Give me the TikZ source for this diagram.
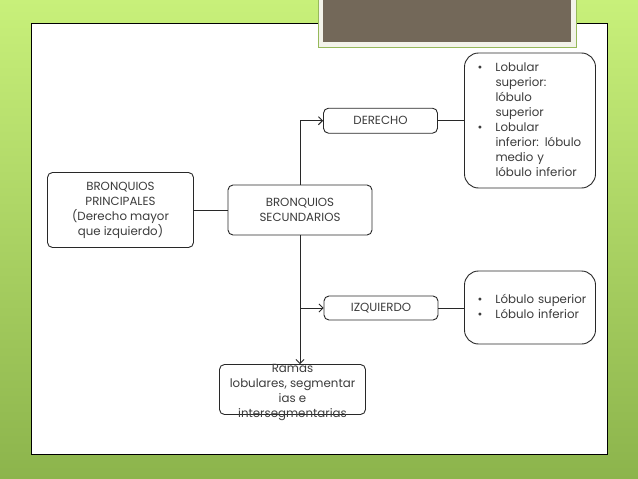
\documentclass[tikz,border=0pt]{standalone}
\usepackage{fontspec}
\setmainfont{Poppins}
\usetikzlibrary{arrows.meta}
\definecolor{bgtop}{RGB}{200,240,122}
\definecolor{bgbot}{RGB}{140,180,76}
\definecolor{titlegray}{RGB}{115,104,89}
\definecolor{cream}{RGB}{243,243,234}
\definecolor{framegreen}{RGB}{150,185,90}
\definecolor{txt}{RGB}{60,60,60}
\definecolor{ln}{RGB}{40,40,40}
\begin{document}
\begin{tikzpicture}[x=1pt,y=-1pt,
  box/.style={draw=ln, line width=0.9pt, rounded corners=5pt, fill=white, text=txt,
    font=\fontsize{11.8}{15}\selectfont, align=center, inner sep=0pt},
  bigbox/.style={box, rounded corners=14pt},
  plaintext/.style={text=txt, font=\fontsize{11.8}{15}\selectfont, align=center, inner sep=0pt},
  conn/.style={draw=ln, line width=0.9pt},
  arr/.style={conn, -{Straight Barb[length=4pt,width=8pt]}}]
\useasboundingbox (0,0) rectangle (638,479);
\shade[top color=bgtop, bottom color=bgbot] (0,0) rectangle (638,479);
\draw[black, line width=1pt, fill=white] (31,23) rectangle (607,454);
\fill[framegreen] (317.5,-1) rectangle (576.5,47.5);
\fill[cream] (318.5,-1) rectangle (575.5,46.5);
\fill[titlegray] (323,-1) rectangle (571,42);

\node[box, minimum width=146pt, minimum height=75pt] (prin) at (120.5,210)
  {BRONQUIOS\\PRINCIPALES\\(Derecho mayor\\que izquierdo)};
\node[box, minimum width=144pt, minimum height=50pt] (sec) at (300,210)
  {BRONQUIOS\\SECUNDARIOS};
\node[box, minimum width=114pt, minimum height=25pt] (der) at (380.5,120.7) {DERECHO};
\node[box, minimum width=114pt, minimum height=24pt] (izq) at (381,308) {IZQUIERDO};
\node[bigbox, minimum width=131pt, minimum height=135pt, text width=105pt, inner xsep=13pt, align=left] (lobd) at (530,120.5)
  {\begin{tabular}{@{}p{18pt}@{}l@{}}\textbullet & Lobular\\ & superior:\\ & lóbulo\\ & superior\\ \textbullet & Lobular\\ & inferior: lóbulo\\ & medio y\\ & lóbulo inferior\end{tabular}};
\node[bigbox, minimum width=131pt, minimum height=73pt, text width=105pt, inner xsep=13pt, align=left] (lobi) at (530,307.5)
  {\begin{tabular}{@{}p{18pt}@{}l@{}}\textbullet & Lóbulo superior\\ \textbullet & Lóbulo inferior\end{tabular}};
\node[box, minimum width=146pt, minimum height=50pt] (ramas) at (292.5,389.5) {};
\node[plaintext] (ramastext) at (292.5,392.5) {Ramas\\lobulares, segmentar\\ias e\\intersegmentarias};

\draw[conn] (prin.east) -- (sec.west);
\draw[arr] (sec.north) |- (der.west);
\draw[arr] (sec.south) |- (izq.west);
\draw[arr] (sec.south) -- (sec.south |- ramas.north);
\draw[conn] (der.east) -- (der.east -| lobd.west);
\draw[conn] (izq.east) -- (izq.east -| lobi.west);
\end{tikzpicture}
\end{document}
